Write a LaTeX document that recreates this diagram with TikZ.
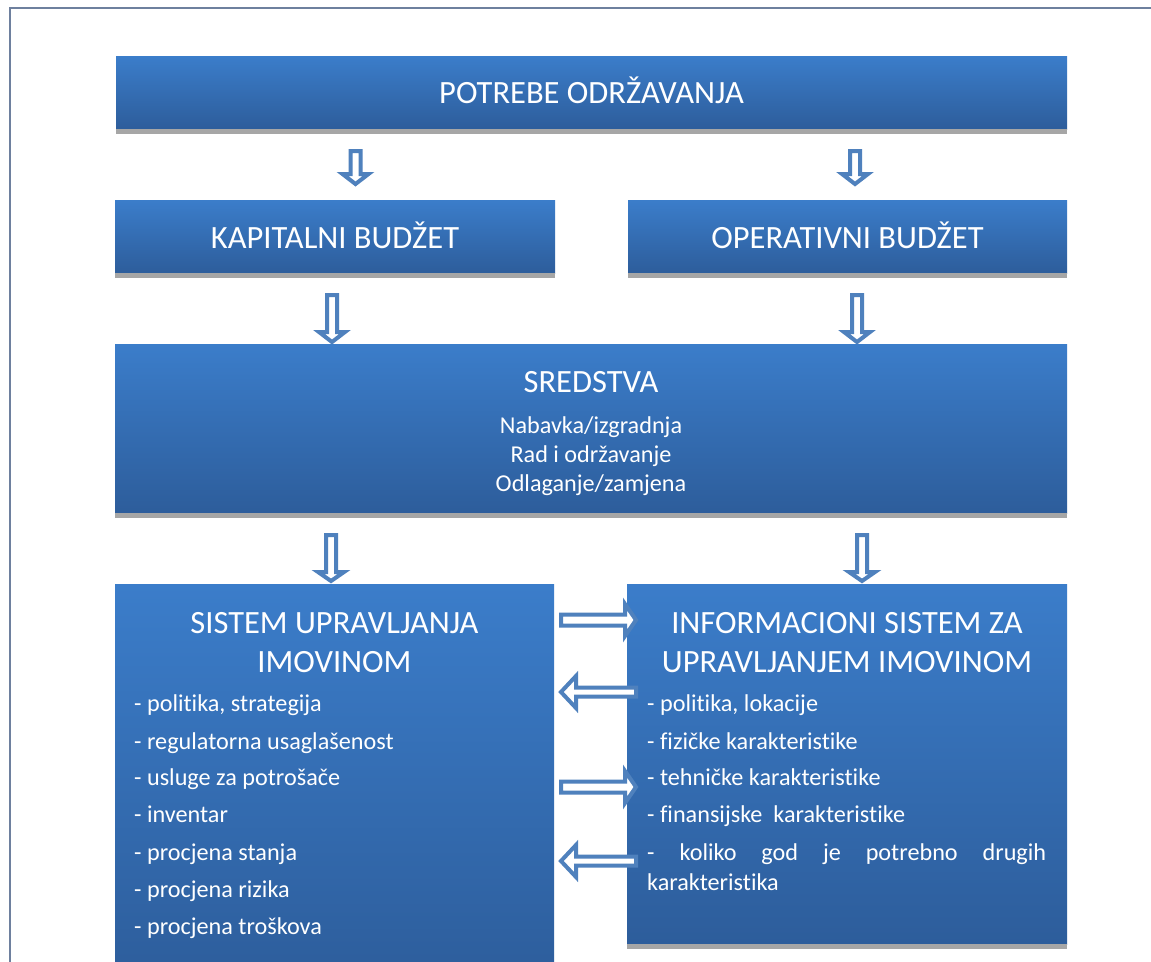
\documentclass[tikz,border=0pt]{standalone}
\usepackage{fontspec}
\setmainfont{Carlito}[Ligatures={NoCommon,NoContextual}]
\definecolor{boxtop}{RGB}{59,125,202}
\definecolor{boxbot}{RGB}{45,93,155}
\definecolor{shadowgray}{RGB}{166,166,166}
\definecolor{arrowblue}{RGB}{79,129,189}
\definecolor{frameline}{RGB}{110,128,158}
\newcommand\darrow[4]{% x, ytop, yhead, ytip
  \draw[barrow] (#1-5,#2+2) -- (#1+5,#2+2) -- (#1+5,#3+2) -- (#1+13,#3+2) -- (#1,#4-3)
    -- (#1-13,#3+2) -- (#1-5,#3+2) -- cycle;}
\newcommand\rarrow[4]{% y, xstart, xhead, xtip
  \draw[barrow] (#2+2,#1-5.5) -- (#3+2,#1-5.5) -- (#3+2,#1-16) -- (#4-3,#1) -- (#3+2,#1+16)
    -- (#3+2,#1+5.5) -- (#2+2,#1+5.5) -- cycle;}
\newcommand\larrow[4]{% y, xend, xhead, xtip
  \draw[barrow] (#2-2,#1-4.5) -- (#3-2,#1-4.5) -- (#3-2,#1-16) -- (#4+3,#1) -- (#3-2,#1+16)
    -- (#3-2,#1+4.5) -- (#2-2,#1+4.5) -- cycle;}
\begin{document}
\begin{tikzpicture}[x=1pt,y=-1pt,
  box/.style={top color=boxtop, bottom color=boxbot, draw=none, inner sep=0pt, anchor=north west},
  shadowbar/.style={fill=shadowgray, draw=none},
  big/.style={text=white, font=\fontsize{32.5}{38}\selectfont, anchor=base, inner sep=0pt},
  small/.style={text=white, font=\fontsize{24.2}{29}\selectfont, anchor=base, inner sep=0pt},
  item/.style={small, anchor=base west},
  barrow/.style={draw=arrowblue, line width=4pt, fill=white, line join=miter, miter limit=10}]
\useasboundingbox (0,0) rectangle (1151,961);
\clip (0,0) rectangle (1151,961);
\fill[white] (0,0) rectangle (1151,961);
% page frame
\draw[frameline, line width=2pt] (10,970) -- (10,8) -- (1160,8);

% boxes
\node[box, minimum width=951pt, minimum height=73pt] (potrebe) at (116,56) {};
\node[box, minimum width=440pt, minimum height=73pt] (kapital) at (115,200) {};
\node[box, minimum width=439pt, minimum height=73pt] (operativ) at (628,200) {};
\node[box, minimum width=952pt, minimum height=169pt] (sredstva) at (115,344) {};
\node[box, minimum width=439pt, minimum height=400pt] (sistem) at (115,584) {};
\node[box, minimum width=440pt, minimum height=360pt] (info) at (627,584) {};

% shadows
\fill[shadowgray] (potrebe.south west) rectangle ([yshift=-5pt]potrebe.south east);
\fill[shadowgray] (kapital.south west) rectangle ([yshift=-5pt]kapital.south east);
\fill[shadowgray] (operativ.south west) rectangle ([yshift=-5pt]operativ.south east);
\fill[shadowgray] (sredstva.south west) rectangle ([yshift=-5pt]sredstva.south east);
\fill[shadowgray] (info.south west) rectangle ([yshift=-5pt]info.south east);

% texts
\node[big] (tpotrebe) at (591.5,103) {POTREBE ODRŽAVANJA};
\node[big] (tkapital) at (335,248) {KAPITALNI BUDŽET};
\node[big] (toperativ) at (847.5,248) {OPERATIVNI BUDŽET};
\node[big] (tsred) at (591,392) {SREDSTVA};
\node[small] (s1) at (591,433) {Nabavka/izgradnja};
\node[small] (s2) at (591,462) {Rad i održavanje};
\node[small] (s3) at (591,491) {Odlaganje/zamjena};
\node[big] (tsis1) at (334.5,633) {SISTEM UPRAVLJANJA};
\node[big] (tsis2) at (334.5,672) {IMOVINOM};
\node[big] (tinf1) at (847,633) {INFORMACIONI SISTEM ZA};
\node[big] (tinf2) at (847,672) {UPRAVLJANJEM IMOVINOM};

\node[item] (l1) at (134,711) {- politika, strategija};
\node[item] (l2) at (134,749) {- regulatorna usaglašenost};
\node[item] (l3) at (134,785) {- usluge za potrošače};
\node[item] (l4) at (134,822) {- inventar};
\node[item] (l5) at (134,860) {- procjena stanja};
\node[item] (l6) at (134,897) {- procjena rizika};
\node[item] (l7) at (134,934) {- procjena troškova};

\node[item] (r1) at (647,711) {- politika, lokacije};
\node[item] (r2) at (647,749) {- fizičke karakteristike};
\node[item] (r3) at (647,785) {- tehničke karakteristike};
\node[item] (r4) at (647,822) {- finansijske\ \ karakteristike};
\node[item] (r5) at (647,860) {\makebox[399pt][s]{- koliko god je potrebno drugih}};
\node[item] (r6) at (647,890) {karakteristika};

% block arrows
\darrow{355.5}{149}{172}{187}
\darrow{855}{149}{172}{187}
\darrow{332}{293}{330}{345}
\darrow{857}{293}{330}{345}
\darrow{331}{533}{570}{584}
\darrow{862}{533}{570}{584}
\rarrow{620}{559}{623}{639}
\larrow{692}{638}{578}{558}
\rarrow{787}{559}{623}{639}
\larrow{861}{638}{578}{558}
\end{tikzpicture}
\end{document}
